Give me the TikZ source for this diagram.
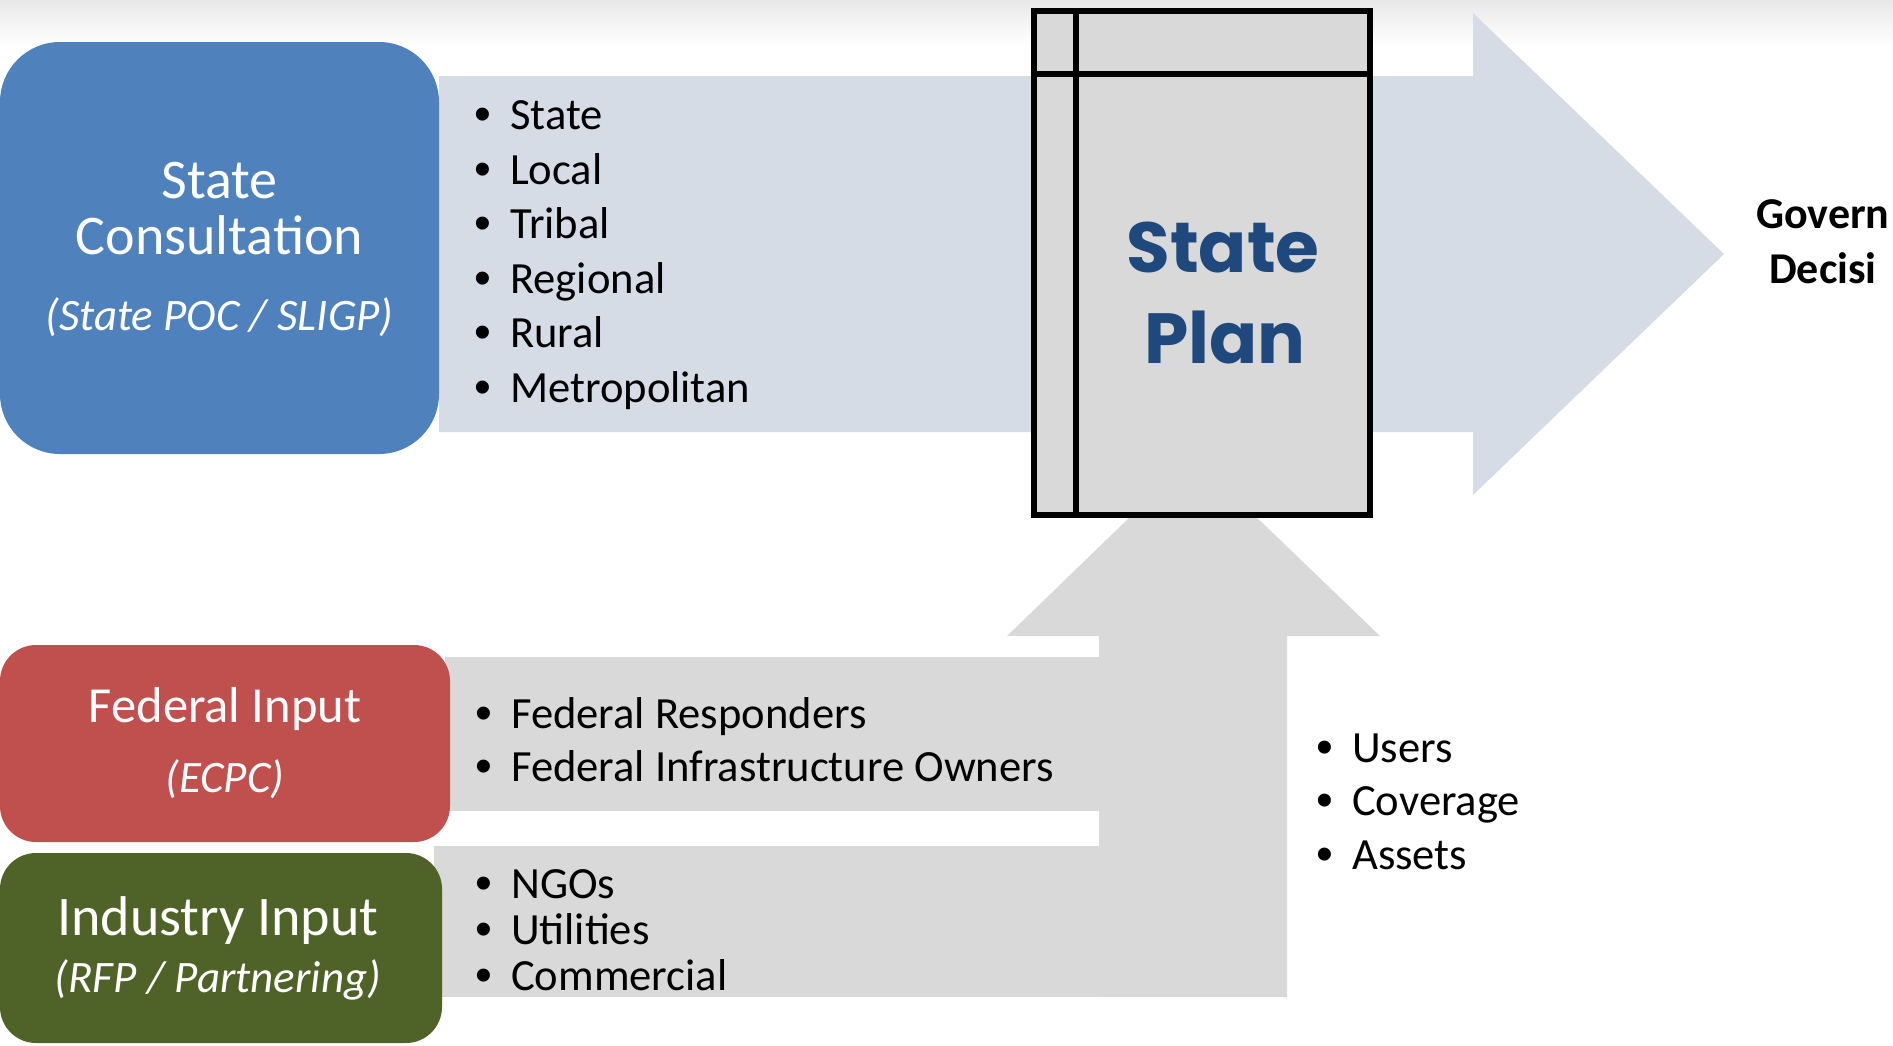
\documentclass[tikz,border=0pt]{standalone}
\usepackage{fontspec}
\setmainfont{Carlito}
\newfontfamily\popfont{Poppins}
\newfontfamily\bulfont{Liberation Sans}
\definecolor{boxblue}{HTML}{4F81BD}
\definecolor{boxred}{HTML}{C0504D}
\definecolor{boxgreen}{HTML}{4F6228}
\definecolor{arrowblue}{HTML}{D6DCE6}
\definecolor{planfill}{HTML}{D9D9D9}
\definecolor{plantext}{HTML}{1F497D}
\newcommand{\bul}{\makebox[36pt][l]{\bulfont\fontsize{48}{50}\selectfont\raisebox{-1pt}{•}}}
\begin{document}
\begin{tikzpicture}[x=1pt,y=-1pt,
  hd/.style={font=\fontsize{56}{60}\selectfont, text=white, anchor=base, inner sep=0pt},
  sub/.style={font=\fontsize{45}{50}\selectfont\itshape, text=white, anchor=base, inner sep=0pt},
  itm/.style={font=\fontsize{44.6}{50}\selectfont, text=black, anchor=base west, inner sep=0pt},
  plantxt/.style={font=\popfont\bfseries\fontsize{71}{80}\selectfont, text=plantext, anchor=base, inner sep=0pt},
  dec/.style={font=\bfseries\fontsize{44}{50}\selectfont, text=black, anchor=base west, inner sep=0pt},
  frame/.style={draw=black, line width=6.5pt}]
\clip (0,0) rectangle (1893,1045);
% top shadow
\fill[top color=black!9, bottom color=white] (0,0) rectangle (1893,46);
% big right arrow
\fill[arrowblue] (439,76) -- (1473,76) -- (1473,13) -- (1724,254) -- (1473,495) -- (1473,432) -- (439,432) -- cycle;
% up arrow and bands
\fill[planfill] (1099,997) -- (1099,636) -- (1007,636) -- (1193,456) -- (1380,636) -- (1287,636) -- (1287,997) -- cycle;
\fill[planfill] (445,657) rectangle (1100,811);
\fill[planfill] (434,846) rectangle (1100,997);
% left boxes
\fill[boxblue, rounded corners=60pt] (0,42) rectangle (439,454);
\fill[boxred, rounded corners=36pt] (0,645) rectangle (450,842);
\fill[boxgreen, rounded corners=36pt] (0,853) rectangle (442,1043);
% state plan box
\node[frame, fill=planfill, minimum width=336pt, minimum height=504pt, inner sep=0pt] (plan) at (1202,263) {};
\coordinate (vt) at (1076,11);
\coordinate (vb) at (1076,515);
\coordinate (hl) at (1034,74);
\coordinate (hr) at (1370,74);
\draw[frame] (vt) -- (vb);
\draw[frame] (hl) -- (hr);
\node[plantxt] (sp1) at (1223,272) {State};
\node[plantxt] (sp2) at (1225,363) {Plan};
% box texts
\node[hd] (t1) at (219.5,198) {State};
\node[hd] (t2) at (219.5,254) {Consultation};
\node[sub] (t3) at (219.5,330) {(State POC / SLIGP)};
\node[hd, font=\fontsize{50.5}{56}\selectfont] (f1) at (225,722) {Federal Input};
\node[sub] (f2) at (225,792) {(ECPC)};
\node[hd] (i1) at (218,935) {Industry Input};
\node[sub] (i2) at (218,992) {(RFP / Partnering)};
% bullet lists
\node[itm] (a1) at (474,129) {\bul State};
\node[itm] (a2) at (474,184) {\bul Local};
\node[itm] (a3) at (474,238) {\bul Tribal};
\node[itm] (a4) at (474,293) {\bul Regional};
\node[itm] (a5) at (474,347) {\bul Rural};
\node[itm] (a6) at (474,402) {\bul Metropolitan};
\node[itm] (b1) at (475,728) {\bul Federal Responders};
\node[itm] (b2) at (475,781) {\bul Federal Infrastructure Owners};
\node[itm] (c1) at (475,898) {\bul NGOs};
\node[itm] (c2) at (475,944) {\bul Utilities};
\node[itm] (c3) at (475,990) {\bul Commercial};
\node[itm] (d1) at (1316,762) {\bul Users};
\node[itm] (d2) at (1316,815) {\bul Coverage};
\node[itm] (d3) at (1316,869) {\bul Assets};
% right label, as far as the picture shows it
\node[dec] (g1) at (1756,228) {Govern};
\node[dec] (g2) at (1769,283) {Decisi};
\end{tikzpicture}
\end{document}
